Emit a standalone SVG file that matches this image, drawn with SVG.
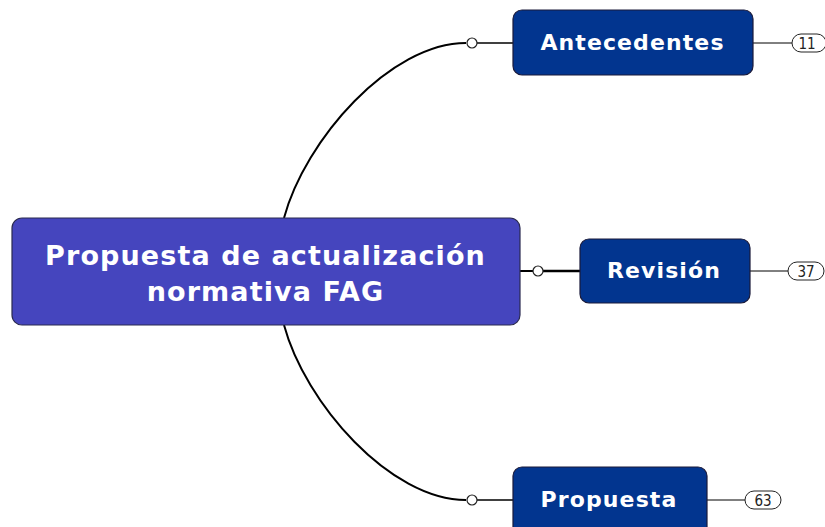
<svg xmlns="http://www.w3.org/2000/svg" width="825" height="527" viewBox="0 0 825 527">
<style>
.root rect{fill:#4545be;stroke:#2a2a50;stroke-width:1.2}
.topic rect{fill:#02358f;stroke:#1a1a3a;stroke-width:1.2}
.t{font-family:"DejaVu Sans",Verdana,sans-serif;font-weight:bold;fill:#fff;text-anchor:middle}
.r{font-size:27px;letter-spacing:1.1px}
.s{font-size:22px;letter-spacing:1.1px}
.badge rect{fill:#fff;stroke:#222;stroke-width:1}
.badge text{font-family:"DejaVu Sans Condensed","DejaVu Sans",sans-serif;font-size:15px;fill:#222;text-anchor:middle}
.con path{fill:none;stroke:#000}
.con circle{fill:#fff;stroke:#222;stroke-width:1.2}
</style>
<rect width="825" height="527" fill="#fff"/>
<g class="con" id="connectors">
<path d="M284,218 C305,140 390,43 466,43" stroke-width="2"/>
<path d="M477,43 H513" stroke-width="1.5"/>
<path d="M284,325 C305,403 390,500 466,500" stroke-width="2"/>
<path d="M477,500 H513" stroke-width="1.5"/>
<path d="M520,271 H533" stroke-width="2"/>
<path d="M543,271 H580" stroke-width="2.5"/>
<circle cx="472" cy="43" r="5"/>
<circle cx="472" cy="500" r="5"/>
<circle cx="538" cy="271" r="5"/>
<path d="M753,43 H792" stroke-width="1"/>
<path d="M750,271 H788" stroke-width="1"/>
<path d="M707,500 H745" stroke-width="1"/>
</g>
<g id="root" class="root">
<rect x="12" y="218" width="508" height="107" rx="10"/>
<text class="t r" x="265.5" y="265">Propuesta de actualización</text>
<text class="t r" x="265.5" y="301">normativa FAG</text>
</g>
<g id="antecedentes" class="topic">
<rect x="513" y="10" width="240" height="65" rx="9"/>
<text class="t s" x="632.5" y="50">Antecedentes</text>
<g class="badge"><rect x="792" y="34" width="34" height="18" rx="9"/><text x="807" y="48.5">11</text></g>
</g>
<g id="revision" class="topic">
<rect x="580" y="239" width="170" height="64" rx="9"/>
<text class="t s" x="664" y="278">Revisión</text>
<g class="badge"><rect x="788" y="262" width="36" height="18" rx="9"/><text x="806" y="276.5">37</text></g>
</g>
<g id="propuesta" class="topic">
<rect x="513" y="467" width="194" height="70" rx="9"/>
<text class="t s" x="609" y="507">Propuesta</text>
<g class="badge"><rect x="745" y="491" width="36" height="18" rx="9"/><text x="763" y="505.5">63</text></g>
</g>
</svg>
